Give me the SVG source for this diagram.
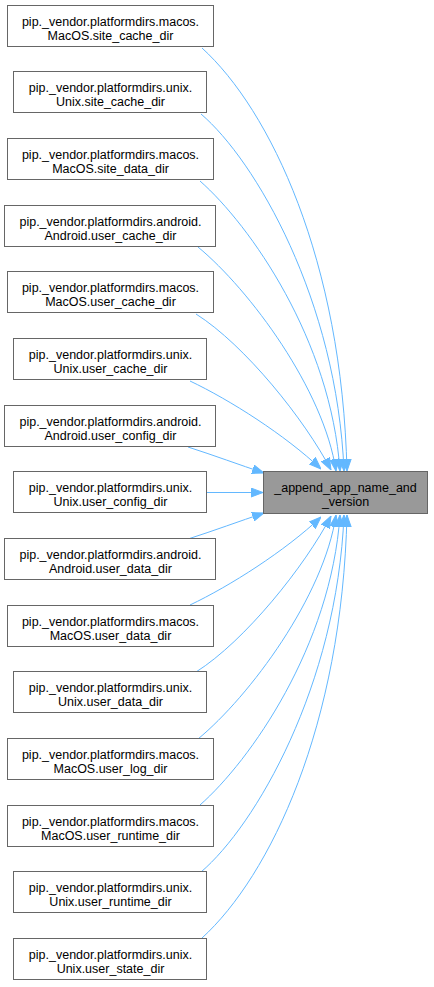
<svg xmlns="http://www.w3.org/2000/svg" width="434" height="987" viewBox="0 0 434 987">
<style>
.n rect{fill:#ffffff;stroke:#666666;stroke-width:1}
.t rect{fill:#999999;stroke:#666666;stroke-width:1}
text{font-family:"Liberation Sans",Arial,sans-serif;font-size:12.5px;fill:#000000;text-anchor:middle}
.e path{fill:none;stroke:#63b8ff;stroke-width:1;marker-end:url(#ah)}
</style>
<defs>
<marker id="ah" viewBox="0 -5 12 10" markerWidth="12" markerHeight="10" refX="12" refY="0" orient="auto" markerUnits="userSpaceOnUse">
<path d="M0,-4.5 L12,0 L0,4.5 z" fill="#63b8ff" stroke="#63b8ff" stroke-width="1"/>
</marker>
</defs>
<g id="edges" class="e">
<path d="M202,48 C270,110 342,260 347,471"/>
<path d="M201,114 C255,160 337,300 344,471"/>
<path d="M200,181 C250,225 331,340 340,471"/>
<path d="M198,247 C250,290 324,390 336,471"/>
<path d="M196,314 C245,345 305,420 331,470"/>
<path d="M190,381 C230,400 285,435 321,469"/>
<path d="M188,447 C213,455 240,465 264,473"/>
<path d="M207,492.5 L263,492.5"/>
<path d="M188,539 C213,531 240,521 264,513"/>
<path d="M190,605 C230,586 285,551 321,517"/>
<path d="M196,672 C245,641 305,566 331,516"/>
<path d="M198,739 C250,696 324,596 336,515"/>
<path d="M200,805 C250,761 331,646 340,515"/>
<path d="M201,872 C255,826 337,686 344,515"/>
<path d="M202,938 C270,876 342,726 347,515"/>
</g>
<g id="target" class="t">
<rect x="263.5" y="471.5" width="164" height="42"/>
<text x="345.5" y="491.5">_append_app_name_and</text>
<text x="345.5" y="505.5">_version</text>
</g>
<g id="n0" class="n"><rect x="7.5" y="5.5" width="206" height="41"/><text x="110.5" y="25.5">pip._vendor.platformdirs.macos.</text><text x="110.5" y="39.5">MacOS.site_cache_dir</text></g>
<g id="n1" class="n"><rect x="13.5" y="71.5" width="193" height="41"/><text x="110.5" y="91.5">pip._vendor.platformdirs.unix.</text><text x="110.5" y="105.5">Unix.site_cache_dir</text></g>
<g id="n2" class="n"><rect x="7.5" y="138.5" width="206" height="41"/><text x="110.5" y="158.5">pip._vendor.platformdirs.macos.</text><text x="110.5" y="172.5">MacOS.site_data_dir</text></g>
<g id="n3" class="n"><rect x="4.5" y="205.5" width="211" height="41"/><text x="110.5" y="225.5">pip._vendor.platformdirs.android.</text><text x="110.5" y="239.5">Android.user_cache_dir</text></g>
<g id="n4" class="n"><rect x="7.5" y="271.5" width="206" height="41"/><text x="110.5" y="291.5">pip._vendor.platformdirs.macos.</text><text x="110.5" y="305.5">MacOS.user_cache_dir</text></g>
<g id="n5" class="n"><rect x="13.5" y="338.5" width="193" height="41"/><text x="110.5" y="358.5">pip._vendor.platformdirs.unix.</text><text x="110.5" y="372.5">Unix.user_cache_dir</text></g>
<g id="n6" class="n"><rect x="4.5" y="405.5" width="211" height="41"/><text x="110.5" y="425.5">pip._vendor.platformdirs.android.</text><text x="110.5" y="439.5">Android.user_config_dir</text></g>
<g id="n7" class="n"><rect x="13.5" y="471.5" width="193" height="41"/><text x="110.5" y="491.5">pip._vendor.platformdirs.unix.</text><text x="110.5" y="505.5">Unix.user_config_dir</text></g>
<g id="n8" class="n"><rect x="4.5" y="538.5" width="211" height="41"/><text x="110.5" y="558.5">pip._vendor.platformdirs.android.</text><text x="110.5" y="572.5">Android.user_data_dir</text></g>
<g id="n9" class="n"><rect x="7.5" y="605.5" width="206" height="41"/><text x="110.5" y="625.5">pip._vendor.platformdirs.macos.</text><text x="110.5" y="639.5">MacOS.user_data_dir</text></g>
<g id="n10" class="n"><rect x="13.5" y="671.5" width="193" height="41"/><text x="110.5" y="691.5">pip._vendor.platformdirs.unix.</text><text x="110.5" y="705.5">Unix.user_data_dir</text></g>
<g id="n11" class="n"><rect x="7.5" y="738.5" width="206" height="41"/><text x="110.5" y="758.5">pip._vendor.platformdirs.macos.</text><text x="110.5" y="772.5">MacOS.user_log_dir</text></g>
<g id="n12" class="n"><rect x="7.5" y="805.5" width="206" height="41"/><text x="110.5" y="825.5">pip._vendor.platformdirs.macos.</text><text x="110.5" y="839.5">MacOS.user_runtime_dir</text></g>
<g id="n13" class="n"><rect x="13.5" y="871.5" width="193" height="41"/><text x="110.5" y="891.5">pip._vendor.platformdirs.unix.</text><text x="110.5" y="905.5">Unix.user_runtime_dir</text></g>
<g id="n14" class="n"><rect x="13.5" y="938.5" width="193" height="41"/><text x="110.5" y="958.5">pip._vendor.platformdirs.unix.</text><text x="110.5" y="972.5">Unix.user_state_dir</text></g>
</svg>
